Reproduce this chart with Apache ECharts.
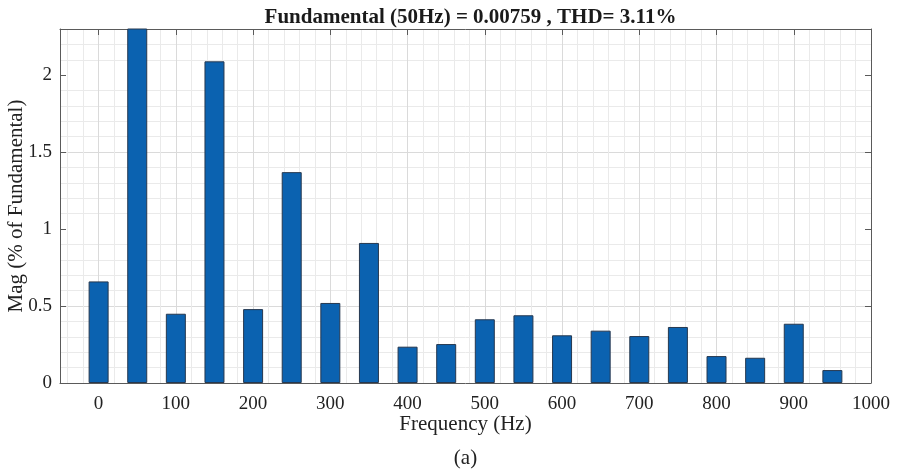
<!DOCTYPE html>
<html>
<head>
<meta charset="utf-8">
<script src="https://cdn.jsdelivr.net/npm/echarts@6/dist/echarts.min.js"></script>
<style>
html,body{margin:0;padding:0;background:#fff;}
#chart{width:898px;height:473px;}
</style>
</head>
<body>
<div id="chart"></div>
<script>
// ---- data ----
const frequencies = [0, 50, 100, 150, 200, 250, 300, 350, 400, 450, 500, 550, 600, 650, 700, 750, 800, 850, 900, 950];
const magnitudes = [0.66, 100, 0.45, 2.09, 0.48, 1.37, 0.52, 0.91, 0.236, 0.253, 0.414, 0.44, 0.31, 0.34, 0.305, 0.364, 0.175, 0.164, 0.385, 0.084];
const xTickValues = [0, 100, 200, 300, 400, 500, 600, 700, 800, 900, 1000];
const yTickValues = [0, 0.5, 1, 1.5, 2];
const titleText = 'Fundamental (50Hz) = 0.00759 , THD= 3.11%';
const xName = 'Frequency (Hz)';
const yName = 'Mag (% of Fundamental)';
const caption = '(a)';

const FONT = 'Liberation Serif';
const AX = '#5a5a5a';
const MAJ = '#dadada';
const MIN = '#eaeaea';
const T = 'rgba(0,0,0,0)';
const X_MIN = -50, X_MAX = 1000, Y_MIN = 0, Y_MAX = 2.3;

const chart = echarts.init(document.getElementById('chart'), null, {renderer: 'canvas'});

const gridBox = {left: 60, right: 27, top: 29, bottom: 90, containLabel: false, outerBoundsMode: 'none'};

function xAxisDef(pos, showLabels) {
  return {
    gridIndex: 0, type: 'value', position: pos, min: X_MIN, max: X_MAX,
    axisLine: {show: true, onZero: false, lineStyle: {color: AX, width: 1}},
    axisTick: {show: true, inside: true, length: 6, customValues: xTickValues, lineStyle: {color: AX}},
    axisLabel: {show: showLabels, customValues: xTickValues, margin: 12, color: '#222', fontFamily: FONT, fontSize: 19,
      formatter: v => String(v)},
    splitLine: {show: false},
    name: showLabels ? xName : '', nameLocation: 'middle', nameGap: 31, nameMoveOverlap: false,
    nameTextStyle: {color: '#222', fontFamily: FONT, fontSize: 21}
  };
}
function yAxisDef(pos, showLabels) {
  return {
    gridIndex: 0, type: 'value', position: pos, min: Y_MIN, max: Y_MAX,
    axisLine: {show: true, onZero: false, lineStyle: {color: AX, width: 1}},
    axisTick: {show: true, inside: true, length: 6, customValues: yTickValues, lineStyle: {color: AX}},
    axisLabel: {show: showLabels, customValues: yTickValues, margin: 8, color: '#222', fontFamily: FONT, fontSize: 19,
      formatter: v => String(v)},
    splitLine: {show: false},
    name: showLabels ? yName : '', nameLocation: 'middle', nameGap: 33, nameMoveOverlap: false,
    nameTextStyle: {color: '#222', fontFamily: FONT, fontSize: 21}
  };
}
// grid-line-only axes (major every 100 Hz / 0.5, minor every 20 Hz / 0.1)
const xGridAxis = {
  gridIndex: 1, type: 'value', position: 'bottom', min: X_MIN, max: X_MAX, interval: 10, z: -1,
  axisLine: {show: false}, axisTick: {show: false}, axisLabel: {show: false},
  splitLine: {show: true, lineStyle: {width: 1, color: [T, MIN, T, MIN, T, MAJ, T, MIN, T, MIN]}}
};
const yGridAxis = {
  gridIndex: 1, type: 'value', position: 'left', min: Y_MIN, max: Y_MAX, interval: 0.1, z: -1,
  axisLine: {show: false}, axisTick: {show: false}, axisLabel: {show: false},
  splitLine: {show: true, lineStyle: {width: 1, color: [T, MIN, MIN, MIN, MIN, MAJ, MIN, MIN, MIN, MIN]}}
};

chart.setOption({
  animation: false,
  backgroundColor: '#fff',
  title: {
    text: titleText, left: 465.5, top: 2, textAlign: 'center',
    textStyle: {fontFamily: FONT, fontWeight: 'bold', fontSize: 21, color: '#1a1a1a'}
  },
  grid: [Object.assign({}, gridBox), Object.assign({}, gridBox)],
  xAxis: [xAxisDef('bottom', true), xAxisDef('top', false), xGridAxis],
  yAxis: [yAxisDef('left', true), yAxisDef('right', false), yGridAxis],
  graphic: [{
    type: 'text', x: 465.5, y: 458,
    style: {text: caption, textAlign: 'center', textVerticalAlign: 'middle', fontFamily: FONT, fontSize: 21, fill: '#222'}
  }],
  series: [{
    type: 'bar', xAxisIndex: 0, yAxisIndex: 0, clip: true,
    data: frequencies.map((f, i) => [f, magnitudes[i]]),
    barWidth: 20,
    itemStyle: {color: '#0b62b0', borderColor: '#26384f', borderWidth: 1}
  }]
});
</script>
</body>
</html>
